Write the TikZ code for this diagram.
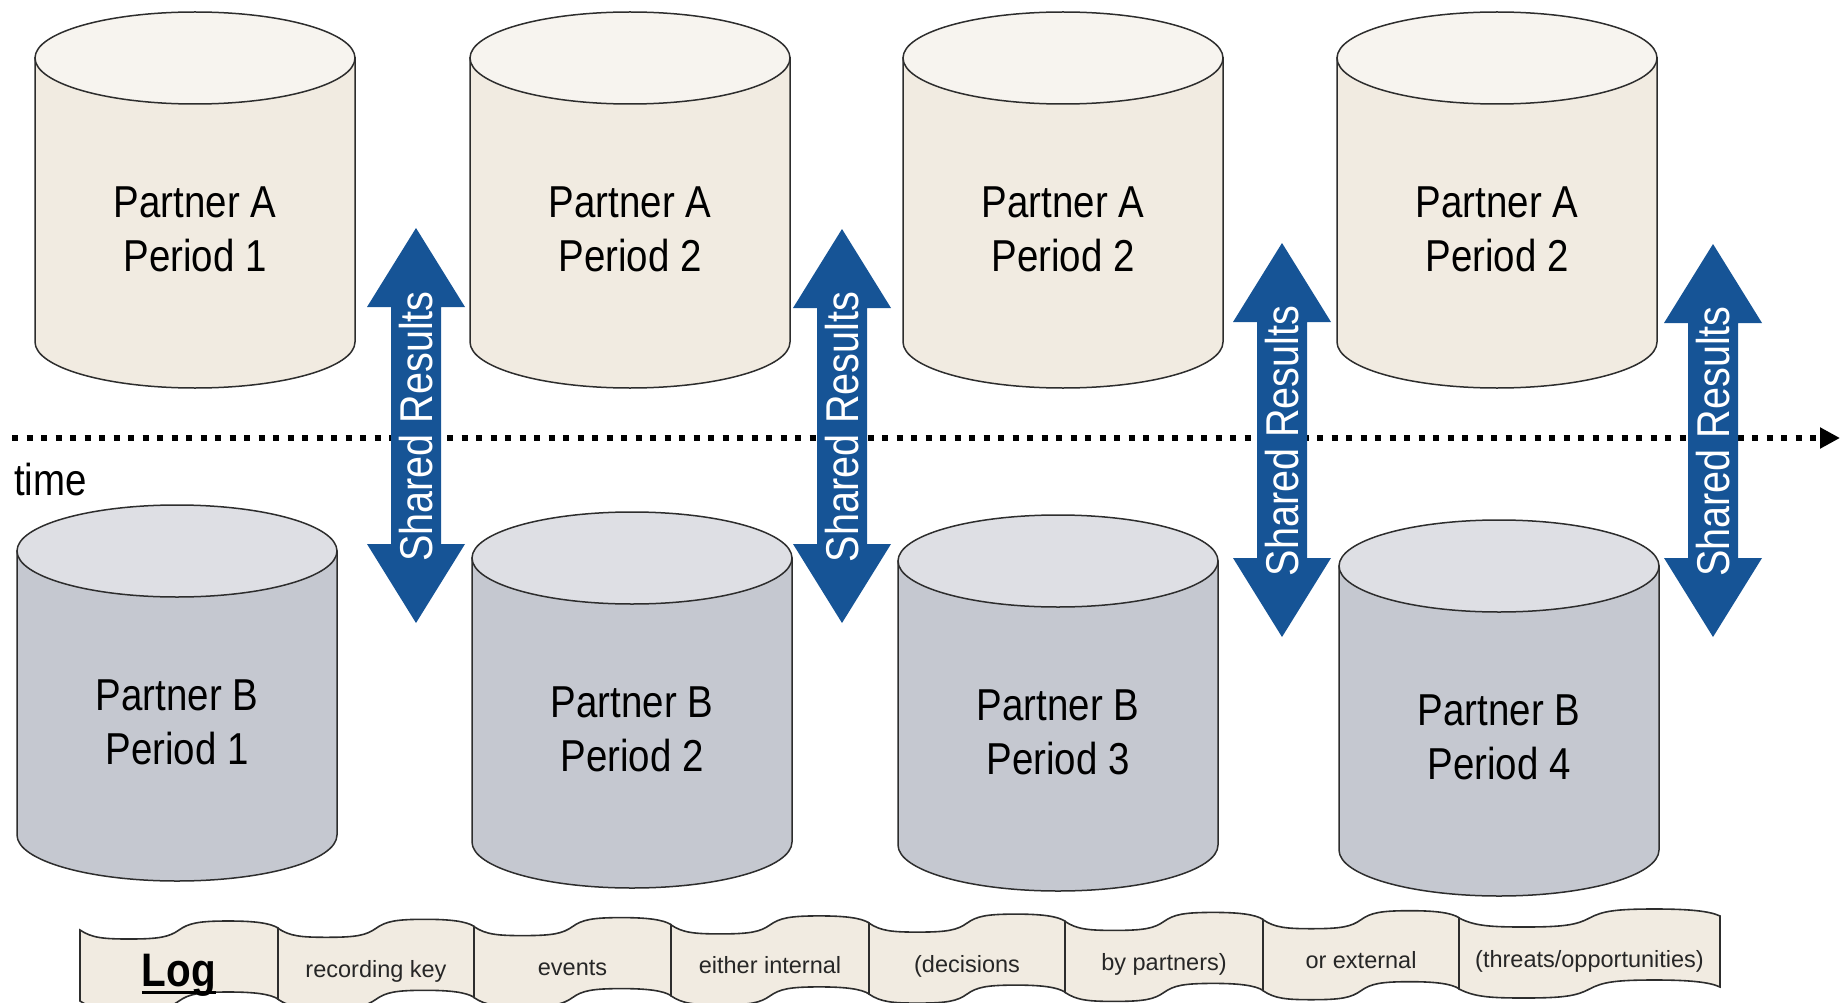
\documentclass[tikz,border=0pt]{standalone}
\usepackage{fontspec}
\setmainfont{Liberation Sans}
\newfontfamily\narrowfont[FakeStretch=0.86]{Liberation Sans}
\usetikzlibrary{arrows.meta}
\definecolor{abody}{RGB}{241,235,225}
\definecolor{atopc}{RGB}{247,244,239}
\definecolor{bbody}{RGB}{197,200,208}
\definecolor{btopc}{RGB}{222,223,228}
\definecolor{arrowblue}{RGB}{22,84,150}
\definecolor{outl}{RGB}{45,45,45}
\tikzset{
  cylline/.style={draw=outl, line width=1.5pt},
  ptext/.style={font=\narrowfont\fontsize{44.7pt}{54pt}\selectfont, align=center, inner sep=0pt, text=black},
  srtext/.style={font=\narrowfont\fontsize{46pt}{50pt}\selectfont, text=white, inner sep=0pt, rotate=90},
  arrowfill/.style={fill=arrowblue},
  timeline/.style={line width=6pt, dash pattern=on 6pt off 8.5pt, -{Triangle[length=20pt,width=20pt]}},
  timetext/.style={font=\narrowfont\fontsize{44.7pt}{54pt}\selectfont, inner sep=0pt},
  tapeline/.style={draw=outl, line width=1.6pt, fill=abody},
  tapetext/.style={font=\fontsize{23.5pt}{28pt}\selectfont, inner sep=0pt, anchor=base, text=black!85},
  logtext/.style={font=\narrowfont\bfseries\fontsize{47pt}{52pt}\selectfont, inner sep=0pt, anchor=base},
}
% cylinder: #1 cx, #2 top extreme y, #3 body colour, #4 top colour
\newcommand\drawcyl[4]{%
  \filldraw[cylline, fill=#3] (#1-160,#2+46) -- (#1-160,#2+330)
    .. controls (#1-160,#2+355.4) and (#1-88.4,#2+376) .. (#1,#2+376)
    .. controls (#1+88.4,#2+376) and (#1+160,#2+355.4) .. (#1+160,#2+330)
    -- (#1+160,#2+46) -- cycle;
  \filldraw[cylline, fill=#4] (#1,#2+46) ellipse [x radius=160pt, y radius=46pt];
}
% double block arrow: #1 name, #2 cx, #3 top tip, #4 bottom tip
\newcommand\sharedarrow[4]{%
  \fill[arrowfill] (#2,#3) -- (#2+49,#3+79) -- (#2+25,#3+79) -- (#2+25,#4-79)
    -- (#2+49,#4-79) -- (#2,#4) -- (#2-49,#4-79) -- (#2-25,#4-79)
    -- (#2-25,#3+79) -- (#2-49,#3+79) -- cycle;
  \node[srtext] (#1) at (#2,{(#3+#4)/2+1}) {Shared Results};
}
% tape piece: #1 left x, #2 width, #3 top-left y
\newcommand\tapepiece[3]{%
  \filldraw[tapeline] (#1,#3)
    .. controls (#1+0.06*#2,#3+8) and (#1+0.12*#2,#3+9) .. (#1+0.25*#2,#3+9)
    .. controls (#1+0.40*#2,#3+9) and (#1+0.45*#2,#3+7) .. (#1+0.5*#2,#3)
    .. controls (#1+0.55*#2,#3-7) and (#1+0.60*#2,#3-9) .. (#1+0.75*#2,#3-9)
    .. controls (#1+0.88*#2,#3-9) and (#1+0.96*#2,#3-7) .. (#1+#2,#3-2)
    -- (#1+#2,#3+69)
    .. controls (#1+0.96*#2,#3+64) and (#1+0.88*#2,#3+62) .. (#1+0.75*#2,#3+62)
    .. controls (#1+0.60*#2,#3+62) and (#1+0.55*#2,#3+64) .. (#1+0.5*#2,#3+71)
    .. controls (#1+0.45*#2,#3+78) and (#1+0.40*#2,#3+80) .. (#1+0.25*#2,#3+80)
    .. controls (#1+0.12*#2,#3+80) and (#1+0.06*#2,#3+79) .. (#1,#3+71)
    -- cycle;
}
\begin{document}
\begin{tikzpicture}[x=1pt, y=-1pt]
\useasboundingbox (0,0) rectangle (1843,1003);
\clip (0,0) rectangle (1843,1003);

% time line
\coordinate (tstart) at (12,438);
\coordinate (tend) at (1840,438);
\draw[timeline] (tstart) -- (tend);
\node[timetext, anchor=base west] (time) at (14,495) {time};

% Partner A cylinders
\drawcyl{195}{12}{abody}{atopc}
\node[ptext] (a1) at (195,229) {Partner A\\Period 1};
\drawcyl{630}{12}{abody}{atopc}
\node[ptext] (a2) at (630,229) {Partner A\\Period 2};
\drawcyl{1063}{12}{abody}{atopc}
\node[ptext] (a3) at (1063,229) {Partner A\\Period 2};
\drawcyl{1497}{12}{abody}{atopc}
\node[ptext] (a4) at (1497,229) {Partner A\\Period 2};

% Partner B cylinders
\drawcyl{177}{505}{bbody}{btopc}
\node[ptext] (b1) at (177,722) {Partner B\\Period 1};
\drawcyl{632}{512}{bbody}{btopc}
\node[ptext] (b2) at (632,729) {Partner B\\Period 2};
\drawcyl{1058}{515}{bbody}{btopc}
\node[ptext] (b3) at (1058,732) {Partner B\\Period 3};
\drawcyl{1499}{520}{bbody}{btopc}
\node[ptext] (b4) at (1499,737) {Partner B\\Period 4};

% shared results arrows
\sharedarrow{sr1}{416}{228}{623}
\sharedarrow{sr2}{842}{229}{623}
\sharedarrow{sr3}{1282}{243}{637}
\sharedarrow{sr4}{1713}{244}{637}

% log tape
\tapepiece{80}{198}{930}
\tapepiece{278}{196}{928.3}
\tapepiece{474}{197}{926.6}
\tapepiece{671}{198}{924.9}
\tapepiece{869}{196}{923.1}
\tapepiece{1065}{198}{921.4}
\tapepiece{1263}{196}{919.7}
\tapepiece{1459}{261}{918}

\node[logtext] (log) at (179,986) {Log};
\draw[line width=3pt] ([yshift=-6pt]log.base west) -- ([yshift=-6pt]log.base east);
\node[tapetext] (t2) at (376,977) {recording key};
\node[tapetext] (t3) at (572.5,975.6) {events};
\node[tapetext] (t4) at (770,973.9) {either internal};
\node[tapetext] (t5) at (967,972.1) {(decisions};
\node[tapetext] (t6) at (1164,970.4) {by partners)};
\node[tapetext] (t7) at (1361,968.7) {or external};
\node[tapetext] (t8) at (1589.5,967) {(threats/opportunities)};
\end{tikzpicture}
\end{document}
